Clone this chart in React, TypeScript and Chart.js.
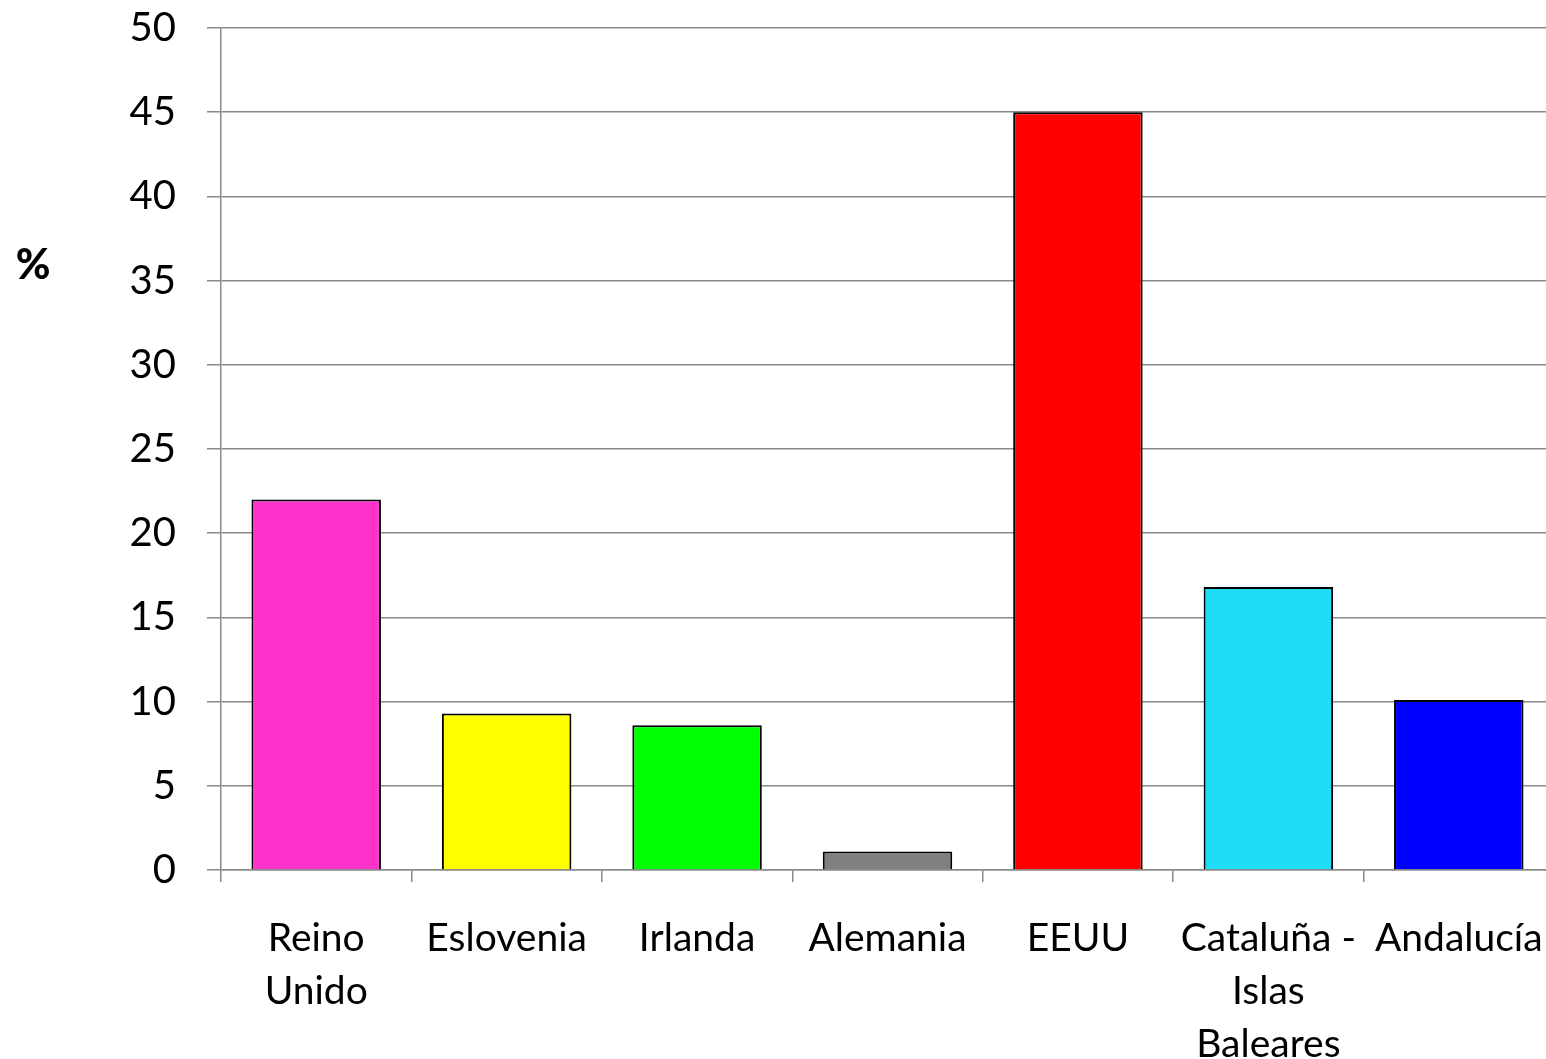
import React, { useEffect, useRef } from "react";
import { Chart, registerables } from "chart.js";

Chart.register(...registerables);

const categories: (string | string[])[] = [
  ["Reino", "Unido"],
  "Eslovenia",
  "Irlanda",
  "Alemania",
  "EEUU",
  ["Cataluña -", "Islas", "Baleares"],
  "Andalucía",
];
const values = [22, 9.3, 8.6, 1.1, 45, 16.8, 10.1];
const barColors = ["#FF33CC", "#FFFF00", "#00FF00", "#808080", "#FF0000", "#1FDDF4", "#0000FF"];
const yTitle = "%";

const FONT = "Lato, 'Open Sans', sans-serif";

export default function App() {
  const ref = useRef<HTMLCanvasElement | null>(null);
  useEffect(() => {
    document.body.style.margin = "0";
    const ctx = ref.current!.getContext("2d")!;
    const titlePlugin = {
      id: "pctTitle",
      afterDraw(chart: any) {
        const c = chart.ctx;
        c.save();
        c.font = `900 42px ${FONT}`;
        c.fillStyle = "#000";
        c.textAlign = "center";
        c.textBaseline = "middle";
        c.fillText(yTitle, 33, 265);
        c.restore();
      },
    };
    const chart = new Chart(ctx, {
      type: "bar",
      data: {
        labels: categories as any,
        datasets: [
          {
            data: values,
            backgroundColor: barColors,
            borderColor: "#000",
            borderWidth: 2,
            borderSkipped: "bottom",
            barPercentage: 0.68,
            categoryPercentage: 1,
          },
        ],
      },
      options: {
        animation: false,
        responsive: false,
        layout: { padding: { top: 28, right: 0, bottom: 0, left: 0 } },
        plugins: { legend: { display: false }, tooltip: { enabled: false } },
        scales: {
          x: {
            grid: {
              drawOnChartArea: false,
              drawTicks: true,
              tickLength: 12,
              color: "#8a8a8a",
              lineWidth: 1.5,
              offset: true,
            },
            border: { color: "#8a8a8a", width: 1.5 },
            ticks: {
              color: "#000",
              font: { family: FONT, size: 39, lineHeight: 1.36 },
              maxRotation: 0,
              minRotation: 0,
              autoSkip: false,
              padding: 30,
            },
            afterFit(scale: any) {
              scale.height = 189;
              scale.paddingLeft = 0;
              scale.paddingRight = 0;
            },
          },
          y: {
            min: 0,
            max: 50,
            grid: { color: "#8a8a8a", lineWidth: 1.5, tickLength: 14 },
            border: { color: "#8a8a8a", width: 1.5 },
            ticks: {
              stepSize: 5,
              color: "#000",
              font: { family: FONT, size: 40 },
              padding: 31,
            },
            afterFit(scale: any) {
              scale.width = 221;
              scale.paddingTop = 0;
              scale.paddingBottom = 0;
            },
          },
        },
      },
      plugins: [titlePlugin],
    });
    return () => chart.destroy();
  }, []);
  return (
    <div
      style={{
        position: "absolute",
        left: 0,
        top: 0,
        width: 1546,
        height: 1059,
        overflow: "hidden",
      }}
    >
      <canvas ref={ref} width={1554} height={1059} style={{ display: "block" }} />
    </div>
  );
}
